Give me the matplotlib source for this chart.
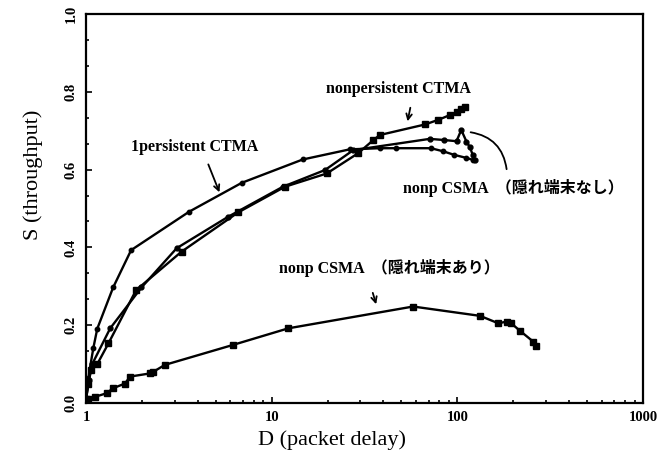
import matplotlib
matplotlib.use("Agg")
import matplotlib.pyplot as plt
from matplotlib.ticker import FixedLocator, LogLocator, NullFormatter, AutoMinorLocator

# ---- data ----
D_np_ctma = [1.0, 1.03, 1.06, 1.15, 1.32, 1.86, 3.27, 6.6, 11.8, 19.8, 29.2, 35.3, 38.3, 67, 79, 91, 100, 105, 110]
S_np_ctma = [0.01, 0.05, 0.085, 0.10, 0.153, 0.29, 0.389, 0.49, 0.556, 0.59, 0.642, 0.676, 0.689, 0.716, 0.728, 0.74, 0.748, 0.755, 0.76]

D_csma_nohid = [1.0, 1.04, 1.08, 1.35, 1.99, 3.08, 5.84, 11.5, 19.4, 27.5, 71, 85, 99, 105, 112, 117, 121, 124]
S_csma_nohid = [0.01, 0.06, 0.10, 0.192, 0.297, 0.398, 0.479, 0.556, 0.599, 0.65, 0.679, 0.676, 0.673, 0.702, 0.672, 0.657, 0.638, 0.625]

D_1p_ctma = [1.0, 1.025, 1.095, 1.15, 1.40, 1.75, 3.6, 6.9, 14.7, 26.3, 38.2, 47, 72, 84, 96, 112, 121]
S_1p_ctma = [0.008, 0.06, 0.141, 0.191, 0.297, 0.393, 0.492, 0.566, 0.626, 0.652, 0.655, 0.655, 0.655, 0.647, 0.638, 0.630, 0.625]

D_csma_hid = [1.0, 1.02, 1.12, 1.29, 1.40, 1.62, 1.73, 2.21, 2.30, 2.66, 6.16, 12.3, 57.8, 132.6, 166, 184, 195, 217, 256, 266]
S_csma_hid = [0.005, 0.01, 0.016, 0.025, 0.038, 0.05, 0.068, 0.076, 0.08, 0.098, 0.149, 0.192, 0.248, 0.224, 0.205, 0.209, 0.205, 0.186, 0.158, 0.147]

x_ticks = [1, 10, 100, 1000]
x_tick_labels = ["1", "10", "100", "1000"]
y_ticks = [0.0, 0.2, 0.4, 0.6, 0.8, 1.0]
y_tick_labels = ["0.0", "0.2", "0.4", "0.6", "0.8", "1.0"]

label_1p = "1persistent CTMA"
label_np = "nonpersistent CTMA"
label_nohid = "nonp CSMA  \uff08隠れ端末なし\uff09"
label_hid = "nonp CSMA  \uff08隠れ端末あり\uff09"

serif = ["Liberation Serif", "DejaVu Serif"]
mixed = ["Liberation Serif", "Noto Sans CJK JP", "DejaVu Sans"]

fig = plt.figure(figsize=(6.66, 4.59), dpi=100)
ax = fig.add_axes([86/666, 1-403/459, (643-86)/666, (403-14)/459])

lw = 1.7
ax.plot(D_np_ctma, S_np_ctma, color="black", lw=lw, marker="s", ms=4)
ax.plot(D_csma_nohid, S_csma_nohid, color="black", lw=lw, marker="o", ms=3.5)
ax.plot(D_1p_ctma, S_1p_ctma, color="black", lw=lw, marker="o", ms=3.2)
ax.plot(D_csma_hid, S_csma_hid, color="black", lw=lw, marker="s", ms=4)

ax.set_xscale("log")
ax.set_xlim(1, 1000)
ax.set_ylim(0, 1.0)
ax.xaxis.set_major_locator(FixedLocator(x_ticks))
ax.set_xticklabels(x_tick_labels, fontfamily=serif, fontsize=10.5, fontweight="bold")
ax.xaxis.set_minor_locator(LogLocator(base=10, subs=range(2, 10)))
ax.xaxis.set_minor_formatter(NullFormatter())
ax.set_yticks(y_ticks)
ax.set_yticklabels(y_tick_labels, fontfamily=serif, fontsize=10.5, fontweight="bold",
                   rotation=90, va="center")
ax.yaxis.set_minor_locator(AutoMinorLocator(3))
ax.tick_params(which="both", direction="in", top=False, right=False, width=1.2)
ax.tick_params(which="major", length=4)
ax.tick_params(which="minor", length=2.5)
ax.tick_params(axis="x", pad=6)
ax.tick_params(axis="y", pad=6)
for s in ax.spines.values():
    s.set_linewidth(1.6)

fig.text(332/666, 1-440/459, "D (packet delay)", ha="center", va="center",
         fontfamily=serif, fontsize=16)
fig.text(33/666, 1-175/459, "S (throughput)", ha="center", va="center",
         rotation=90, fontfamily=serif, fontsize=16)

tkw = dict(fontfamily=mixed, fontsize=11.5, fontweight="bold")
ax.text(3.86, 0.658, label_1p, ha="center", va="center", **tkw)
ax.annotate("", xy=(5.3, 0.535), xytext=(4.5, 0.620),
            arrowprops=dict(arrowstyle="->", lw=1.3, color="black"))
ax.text(47.9, 0.807, label_np, ha="center", va="center", **tkw)
ax.annotate("", xy=(53.6, 0.717), xytext=(56.2, 0.766),
            arrowprops=dict(arrowstyle="->", lw=1.3, color="black"))
ax.text(50.9, 0.553, label_nohid, ha="left", va="center", **tkw)
ax.annotate("", xy=(114, 0.697), xytext=(185, 0.594),
            arrowprops=dict(arrowstyle="-", lw=1.3, color="black",
                            connectionstyle="arc3,rad=0.4"))
ax.text(11.0, 0.346, label_hid, ha="left", va="center", **tkw)
ax.annotate("", xy=(36.9, 0.247), xytext=(34.7, 0.290),
            arrowprops=dict(arrowstyle="->", lw=1.3, color="black"))

fig.savefig("out.png", dpi=100)
